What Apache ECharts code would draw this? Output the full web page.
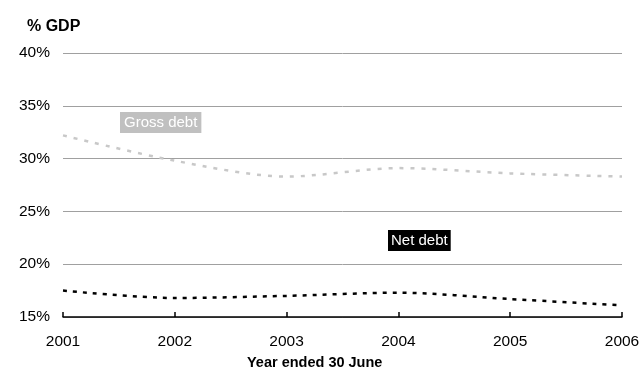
<!DOCTYPE html>
<html><head><meta charset="utf-8">
<script src="https://cdn.jsdelivr.net/npm/echarts@6/dist/echarts.min.js"></script>
<style>html,body{margin:0;padding:0;background:#fff}#c{width:643px;height:371px}</style>
</head><body><div id="c"></div>
<script>
var years = ['2001','2002','2003','2004','2005','2006'];
var grossDebt = [32.2, 29.8, 28.3, 29.1, 28.6, 28.3];
var netDebt = [17.5, 16.8, 17.0, 17.3, 16.7, 16.1];
var yTicks = [15, 20, 25, 30, 35, 40];

var chart = echarts.init(document.getElementById('c'));
var F = 'Liberation Sans, Arial, sans-serif';
chart.setOption({
  animation: false,
  grid: {left: 63, right: 21, top: 53, bottom: 54},
  xAxis: {
    type: 'category', data: years, boundaryGap: false,
    axisLine: {lineStyle: {color: '#000', width: 1.5}},
    axisTick: {inside: true, length: 5, lineStyle: {color: '#000', width: 1.5}},
    axisLabel: {color: '#000', fontSize: 15.5, fontFamily: F, margin: 17},
    splitLine: {show: false}
  },
  yAxis: {
    type: 'value', min: yTicks[0], max: yTicks[yTicks.length-1], interval: 5,
    axisLine: {show: false}, axisTick: {show: false},
    axisLabel: {color: '#000', fontSize: 15.5, fontFamily: F, margin: 13, formatter: '{value}%'},
    splitLine: {lineStyle: {color: '#a0a0a0', width: 1}}
  },
  series: [
    {type: 'line', name: 'Gross debt', data: grossDebt, smooth: 0.3, symbol: 'none',
     lineStyle: {color: '#c8c8c8', width: 2.5, type: [4, 7]}},
    {type: 'line', name: 'Net debt', data: netDebt, smooth: 0.3, symbol: 'none',
     lineStyle: {color: '#000', width: 2.5, type: [4, 6]}}
  ],
  graphic: [
    {type: 'text', left: 27, top: 19, style: {text: '% GDP', fontSize: 16, fontWeight: 'bold', fontFamily: F, fill: '#000'}},
    {type: 'text', left: 247, top: 355, style: {text: 'Year ended 30 June', fontSize: 14.5, fontWeight: 'bold', fontFamily: F, fill: '#000'}},
    {type: 'text', left: 120, top: 112, style: {text: 'Gross debt', fontSize: 15, fontFamily: F, fill: '#fff', backgroundColor: '#c0c0c0', padding: [3, 4, 3, 4]}},
    {type: 'text', left: 388, top: 230, style: {text: 'Net debt', fontSize: 15, fontFamily: F, fill: '#fff', backgroundColor: '#000', padding: [3, 3, 3, 3]}}
  ]
});
</script></body></html>
